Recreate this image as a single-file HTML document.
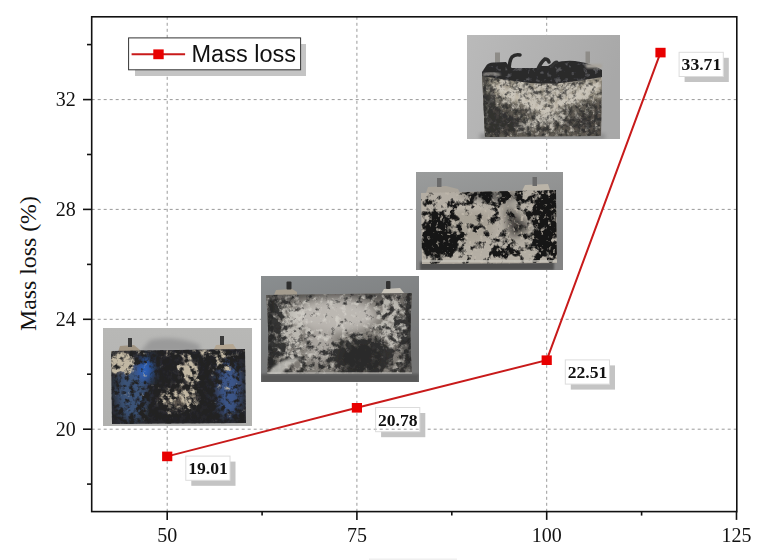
<!DOCTYPE html><html><head><meta charset="utf-8"><style>html,body{margin:0;padding:0;background:#fff;overflow:hidden}svg{display:block;}</style></head><body><svg width="773" height="560" viewBox="0 0 773 560"><rect width="773" height="560" fill="#fff"/><g stroke="#9a9a9a" stroke-width="1" stroke-dasharray="3 3" fill="none"><line x1="167.2" y1="16.8" x2="167.2" y2="511.6"/><line x1="356.9" y1="16.8" x2="356.9" y2="511.6"/><line x1="546.7" y1="16.8" x2="546.7" y2="511.6"/><line x1="91.7" y1="429.2" x2="736.8" y2="429.2"/><line x1="91.7" y1="319.3" x2="736.8" y2="319.3"/><line x1="91.7" y1="209.4" x2="736.8" y2="209.4"/><line x1="91.7" y1="99.6" x2="736.8" y2="99.6"/></g><defs><filter id="t1l" filterUnits="userSpaceOnUse" x="111" y="349" width="135" height="75" color-interpolation-filters="sRGB"><feTurbulence type="fractalNoise" baseFrequency="0.12" numOctaves="4" seed="7" result="n0"/><feColorMatrix in="n0" type="matrix" values="1 0 0 0 0  0 1 0 0 0  0 0 1 0 0  0 0 0 0 1" result="n"/><feGaussianBlur in="SourceGraphic" stdDeviation="4" result="map"/><feComposite in="n" in2="map" operator="arithmetic" k1="0" k2="1" k3="0.6" k4="-0.3" result="s"/><feColorMatrix in="s" type="matrix" values="0 0 0 0 0.76  0 0 0 0 0.72  0 0 0 0 0.64  5 0 0 0 -2.0"/><feGaussianBlur stdDeviation="0.4"/></filter><filter id="t1d" filterUnits="userSpaceOnUse" x="111" y="349" width="135" height="75" color-interpolation-filters="sRGB"><feTurbulence type="fractalNoise" baseFrequency="0.2" numOctaves="3" seed="3" result="n0"/><feColorMatrix in="n0" type="matrix" values="1 0 0 0 0  0 1 0 0 0  0 0 1 0 0  0 0 0 0 1" result="n"/><feGaussianBlur in="SourceGraphic" stdDeviation="4" result="map"/><feComposite in="n" in2="map" operator="arithmetic" k1="0" k2="1" k3="0.6" k4="-0.3" result="s"/><feColorMatrix in="s" type="matrix" values="0 0 0 0 0.13  0 0 0 0 0.13  0 0 0 0 0.14  4 0 0 0 -1.5"/><feGaussianBlur stdDeviation="0.3"/></filter><filter id="t2d" filterUnits="userSpaceOnUse" x="266" y="293" width="148" height="84" color-interpolation-filters="sRGB"><feTurbulence type="fractalNoise" baseFrequency="0.16" numOctaves="4" seed="5" result="n0"/><feColorMatrix in="n0" type="matrix" values="1 0 0 0 0  0 1 0 0 0  0 0 1 0 0  0 0 0 0 1" result="n"/><feGaussianBlur in="SourceGraphic" stdDeviation="5" result="map"/><feComposite in="n" in2="map" operator="arithmetic" k1="0" k2="1" k3="0.6" k4="-0.3" result="s"/><feColorMatrix in="s" type="matrix" values="0 0 0 0 0.16  0 0 0 0 0.16  0 0 0 0 0.16  4 0 0 0 -1.5"/><feGaussianBlur stdDeviation="0.4"/></filter><filter id="t2l" filterUnits="userSpaceOnUse" x="266" y="293" width="148" height="84" color-interpolation-filters="sRGB"><feTurbulence type="fractalNoise" baseFrequency="0.17" numOctaves="4" seed="13" result="n0"/><feColorMatrix in="n0" type="matrix" values="1 0 0 0 0  0 1 0 0 0  0 0 1 0 0  0 0 0 0 1" result="n"/><feGaussianBlur in="SourceGraphic" stdDeviation="5" result="map"/><feComposite in="n" in2="map" operator="arithmetic" k1="0" k2="1" k3="0.6" k4="-0.3" result="s"/><feColorMatrix in="s" type="matrix" values="0 0 0 0 0.86  0 0 0 0 0.85  0 0 0 0 0.82  4 0 0 0 -1.5"/><feGaussianBlur stdDeviation="0.4"/></filter><filter id="t3d" filterUnits="userSpaceOnUse" x="421" y="190" width="136" height="74" color-interpolation-filters="sRGB"><feTurbulence type="fractalNoise" baseFrequency="0.12" numOctaves="4" seed="9" result="n0"/><feColorMatrix in="n0" type="matrix" values="1 0 0 0 0  0 1 0 0 0  0 0 1 0 0  0 0 0 0 1" result="n"/><feGaussianBlur in="SourceGraphic" stdDeviation="5" result="map"/><feComposite in="n" in2="map" operator="arithmetic" k1="0" k2="1" k3="0.6" k4="-0.3" result="s"/><feColorMatrix in="s" type="matrix" values="0 0 0 0 0.09  0 0 0 0 0.09  0 0 0 0 0.09  6 0 0 0 -2.5"/><feGaussianBlur stdDeviation="0.4"/></filter><filter id="s3l" x="0" y="0" width="100%" height="100%" color-interpolation-filters="sRGB"><feTurbulence type="fractalNoise" baseFrequency="0.25" numOctaves="3" seed="31"/><feColorMatrix type="matrix" values="0 0 0 0 0.76  0 0 0 0 0.73  0 0 0 0 0.68  6 0 0 0 -3.6"/><feGaussianBlur stdDeviation="0.3"/></filter><filter id="t4d" filterUnits="userSpaceOnUse" x="483" y="72" width="120" height="66" color-interpolation-filters="sRGB"><feTurbulence type="fractalNoise" baseFrequency="0.22" numOctaves="4" seed="4" result="n0"/><feColorMatrix in="n0" type="matrix" values="1 0 0 0 0  0 1 0 0 0  0 0 1 0 0  0 0 0 0 1" result="n"/><feGaussianBlur in="SourceGraphic" stdDeviation="4" result="map"/><feComposite in="n" in2="map" operator="arithmetic" k1="0" k2="1" k3="0.6" k4="-0.3" result="s"/><feColorMatrix in="s" type="matrix" values="0 0 0 0 0.16  0 0 0 0 0.16  0 0 0 0 0.16  3.5 0 0 0 -1.25"/><feGaussianBlur stdDeviation="0.3"/></filter><filter id="t4l" filterUnits="userSpaceOnUse" x="483" y="72" width="120" height="66" color-interpolation-filters="sRGB"><feTurbulence type="fractalNoise" baseFrequency="0.2" numOctaves="4" seed="17" result="n0"/><feColorMatrix in="n0" type="matrix" values="1 0 0 0 0  0 1 0 0 0  0 0 1 0 0  0 0 0 0 1" result="n"/><feGaussianBlur in="SourceGraphic" stdDeviation="4" result="map"/><feComposite in="n" in2="map" operator="arithmetic" k1="0" k2="1" k3="0.6" k4="-0.3" result="s"/><feColorMatrix in="s" type="matrix" values="0 0 0 0 0.8  0 0 0 0 0.78  0 0 0 0 0.74  3.5 0 0 0 -1.25"/><feGaussianBlur stdDeviation="0.3"/></filter><filter id="s4c" x="0" y="0" width="100%" height="100%" color-interpolation-filters="sRGB"><feTurbulence type="fractalNoise" baseFrequency="0.18" numOctaves="3" seed="23"/><feColorMatrix type="matrix" values="0 0 0 0 0.34  0 0 0 0 0.34  0 0 0 0 0.35  5 0 0 0 -2.9"/><feGaussianBlur stdDeviation="0.4"/></filter><filter id="bl4" x="-50%" y="-50%" width="200%" height="200%"><feGaussianBlur stdDeviation="4"/></filter><filter id="bl2" x="-50%" y="-50%" width="200%" height="200%"><feGaussianBlur stdDeviation="2"/></filter><filter id="bl1" x="-50%" y="-50%" width="200%" height="200%"><feGaussianBlur stdDeviation="1"/></filter><filter id="pb" filterUnits="userSpaceOnUse" x="0" y="0" width="773" height="560"><feGaussianBlur stdDeviation="0.6"/></filter></defs><g filter="url(#pb)">
<linearGradient id="bg1" x1="0" y1="0" x2="0" y2="1"><stop offset="0" stop-color="#b8b8b6"/><stop offset="1" stop-color="#b0b0ae"/></linearGradient>
<clipPath id="c1"><rect x="103" y="328" width="149" height="98"/></clipPath>
<clipPath id="b1"><path d="M111 351 L245 349 L246 423 L112 424 Z"/></clipPath>
<g clip-path="url(#c1)">
<rect x="103" y="328" width="149" height="98" fill="url(#bg1)"/>
<path d="M150 340 Q175 335 200 345 L200 352 L140 352 Z" fill="#9a9a9a" filter="url(#bl2)"/>
<path d="M118 352 L120 346 L134 345 L140 350 L140 352 Z" fill="#a09482"/>
<rect x="128" y="338" width="4" height="9" fill="#3a3a3a"/>
<path d="M213 351 L216 345 L233 344 L237 350 Z" fill="#b4a692"/>
<rect x="220" y="336" width="4" height="9" fill="#3a3a3a"/>
<path d="M111 351 L245 349 L246 423 L112 424 Z" fill="#28282c"/>
<g clip-path="url(#b1)">
<g filter="url(#bl4)">
 <ellipse cx="132" cy="392" rx="16" ry="30" fill="#3a5278"/>
 <ellipse cx="146" cy="369" rx="7" ry="12" fill="#2c64c4"/>
 <ellipse cx="229" cy="388" rx="13" ry="30" fill="#3a5488"/>
 <ellipse cx="178" cy="398" rx="20" ry="11" fill="#5e5850"/>
 <ellipse cx="122" cy="362" rx="9" ry="7" fill="#a89c88"/>
 <ellipse cx="188" cy="370" rx="5" ry="10" fill="#a49a8c"/>
</g>
<g filter="url(#t1l)"><rect x="111" y="349" width="135" height="75" fill="#000"/><ellipse cx="122" cy="363" rx="13" ry="11" fill="#fff"/><ellipse cx="188" cy="370" rx="9" ry="14" fill="#f8f8f8"/><ellipse cx="180" cy="398" rx="22" ry="12" fill="#b0b0b0"/><rect x="111" y="349" width="135" height="6" fill="#909090"/><ellipse cx="222" cy="362" rx="14" ry="8" fill="#909090"/></g>
<g filter="url(#t1d)"><rect x="111" y="349" width="135" height="75" fill="#000"/><rect x="111" y="349" width="135" height="75" fill="#aaa"/><ellipse cx="147" cy="372" rx="10" ry="14" fill="#222"/><ellipse cx="229" cy="390" rx="12" ry="25" fill="#444"/><ellipse cx="128" cy="392" rx="14" ry="25" fill="#555"/><ellipse cx="122" cy="362" rx="11" ry="9" fill="#333"/><ellipse cx="188" cy="370" rx="7" ry="12" fill="#333"/><ellipse cx="180" cy="398" rx="18" ry="10" fill="#666"/></g>
</g>
</g>
<linearGradient id="bg2" x1="0" y1="0" x2="0.4" y2="1"><stop offset="0" stop-color="#8a8e90"/><stop offset="1" stop-color="#747474"/></linearGradient>
<clipPath id="c2"><rect x="261" y="276" width="158" height="106"/></clipPath>
<clipPath id="b2"><path d="M266 295 L412 293 Q409 335 412 373 L267 374 Q270 335 266 295 Z"/></clipPath>
<g clip-path="url(#c2)">
<rect x="261" y="276" width="158" height="106" fill="url(#bg2)"/>
<rect x="261" y="374" width="158" height="9" fill="#585858" filter="url(#bl1)"/>
<path d="M274 295 L276 290 L292 289 L297 292 L297 295 Z" fill="#a49c8e"/>
<rect x="286.5" y="281.5" width="5" height="8" rx="1" fill="#2e2e2e"/>
<path d="M381 294 L384 289 L400 288 L404 293 Z" fill="#c8c4ba"/>
<rect x="386" y="281" width="4.5" height="8" rx="1" fill="#333"/>
<path d="M266 295 L412 293 Q409 335 412 373 L267 374 Q270 335 266 295 Z" fill="#7e7a74"/>
<g clip-path="url(#b2)">
<g filter="url(#bl4)">
 <ellipse cx="335" cy="316" rx="42" ry="17" fill="#bcb8b2"/>
 <ellipse cx="320" cy="345" rx="14" ry="18" fill="#aaa6a0"/>
 <ellipse cx="268" cy="335" rx="6" ry="45" fill="#303030"/>
 <ellipse cx="412" cy="335" rx="5" ry="45" fill="#2a2a2a"/>
 <ellipse cx="362" cy="358" rx="20" ry="14" fill="#3a3836"/>
 <ellipse cx="340" cy="295" rx="75" ry="3" fill="#2a2a2a"/>
</g>
<g opacity="0.65"><g filter="url(#t2l)"><rect x="266" y="293" width="148" height="84" fill="#000"/><rect x="266" y="293" width="148" height="84" fill="#404040"/><ellipse cx="290" cy="332" rx="15" ry="32" fill="#c0c0c0"/><ellipse cx="394" cy="322" rx="14" ry="26" fill="#c8c8c8"/><ellipse cx="362" cy="358" rx="26" ry="16" fill="#222"/></g></g>
<g opacity="0.9"><g filter="url(#t2d)"><rect x="266" y="293" width="148" height="84" fill="#000"/><rect x="266" y="293" width="148" height="84" fill="#5a5a5a"/><ellipse cx="274" cy="335" rx="10" ry="45" fill="#c0c0c0"/><ellipse cx="362" cy="356" rx="30" ry="18" fill="#e8e8e8"/><ellipse cx="406" cy="335" rx="8" ry="45" fill="#b0b0b0"/><ellipse cx="335" cy="318" rx="45" ry="20" fill="#0a0a0a"/></g></g>
<path d="M267 377 Q270 366 285 360 Q296 357 302 358 Q288 364 280 376 Z" fill="#c4c2bc" opacity="0.85" filter="url(#bl1)"/>
</g>
<rect x="267" y="372" width="145" height="2" fill="#c8c6c2" opacity="0.5"/>
</g>
<linearGradient id="bg3" x1="0" y1="0" x2="0.3" y2="1"><stop offset="0" stop-color="#9a9c9c"/><stop offset="1" stop-color="#848484"/></linearGradient>
<clipPath id="c3"><rect x="416.5" y="172" width="146.5" height="98"/></clipPath>
<clipPath id="b3"><path d="M421 193 L556 190 L557 263 L422 264 Z"/></clipPath>
<g clip-path="url(#c3)">
<rect x="416" y="172" width="147" height="98" fill="url(#bg3)"/>
<rect x="420" y="262" width="134" height="8" fill="#505050" filter="url(#bl1)"/>
<path d="M426 193 L428 187 L446 186 L458 189 L460 193 Z" fill="#aaa49a"/>
<rect x="437" y="178" width="4.5" height="9" fill="#6a6a6a"/>
<path d="M522 191 L525 185 L548 184 L550 190 Z" fill="#bab4a8"/>
<rect x="532.5" y="177" width="4.5" height="9" fill="#6a6a6a"/>
<path d="M421 193 L556 190 L557 263 L422 264 Z" fill="#b4aea4"/>
<g clip-path="url(#b3)">
<g filter="url(#bl4)">
 <path d="M505 205 L531 228 L511 238 Z" fill="#3a3834"/>
 <ellipse cx="470" cy="205" rx="14" ry="6" fill="#cac4ba"/>
 <ellipse cx="490" cy="196" rx="30" ry="4" fill="#3a3a3a"/>
 <ellipse cx="470" cy="225" rx="25" ry="18" fill="#a8a296"/>
</g>
<g filter="url(#t3d)"><rect x="421" y="190" width="136" height="74" fill="#000"/><rect x="421" y="190" width="136" height="74" fill="#8a8a8a"/><ellipse cx="436" cy="240" rx="16" ry="26" fill="#fff"/><rect x="536" y="190" width="22" height="74" fill="#fff"/><rect x="462" y="200" width="70" height="58" fill="#505050"/><ellipse cx="502" cy="250" rx="8" ry="8" fill="#fff"/><ellipse cx="520" cy="256" rx="5" ry="6" fill="#ddd"/><ellipse cx="445" cy="204" rx="20" ry="8" fill="#3a3a3a"/><ellipse cx="500" cy="194" rx="28" ry="4" fill="#eee"/><rect x="421" y="257" width="136" height="7" fill="#333"/></g>
<rect x="421" y="190" width="136" height="74" filter="url(#s3l)" opacity="0.8"/>
<rect x="421" y="260" width="136" height="2" fill="#c8c4bc" opacity="0.7"/>
</g>
</g>
<linearGradient id="bg4" x1="0" y1="0" x2="1" y2="0.3"><stop offset="0" stop-color="#bababa"/><stop offset="1" stop-color="#a8a8a8"/></linearGradient>
<clipPath id="c4"><rect x="467" y="35" width="152.5" height="104"/></clipPath>
<clipPath id="b4"><path d="M482 75 L602 72 L601 136 L485 137 Z"/></clipPath>
<clipPath id="ch4"><path d="M482 72 L486 66 Q488 62 495 62.5 L506 62 L509 66 L512 68 L525 68 L537 68 L540 66 L548 66 L553 63 Q565 60 575 61 L586 63 L595 66 L602 70 L602 77 Q580 81 560 83 Q545 84 530 83 Q505 80 482 76 Z"/></clipPath>
<g clip-path="url(#c4)">
<rect x="467" y="35" width="153" height="104" fill="url(#bg4)"/>
<rect x="480" y="134" width="125" height="5" fill="#888" filter="url(#bl2)"/>
<rect x="495" y="52.5" width="5" height="11" fill="#8e8c88"/>
<rect x="585.5" y="51.5" width="4.5" height="12" fill="#8e8c88"/>
<path d="M482 75 L602 72 L601 136 L485 137 Z" fill="#5e5a52"/>
<g clip-path="url(#b4)">
<g filter="url(#bl2)">
 <path d="M484 75 L602 73 L602 98 L545 108 L484 98 Z" fill="#948e80"/>
 <path d="M485 106 L535 128 L485 137 Z" fill="#4e4a44"/>
 <path d="M602 106 L560 128 L602 137 Z" fill="#54504a"/>
 <path d="M495 86 L545 112 L600 84" stroke="#d0c8b8" stroke-width="5" fill="none"/>
 <path d="M518 127 L562 117" stroke="#d8d4ca" stroke-width="3.5" fill="none"/>
 <rect x="483" y="72" width="6" height="66" fill="#4a4844"/>
</g>
<g opacity="0.85"><g filter="url(#t4l)"><rect x="483" y="72" width="120" height="66" fill="#000"/><rect x="483" y="72" width="120" height="66" fill="#4a4a4a"/><ellipse cx="545" cy="90" rx="48" ry="9" fill="#aaa"/><path d="M495 86 L545 112 L600 84" stroke="#e0e0e0" stroke-width="7" fill="none"/><path d="M505 96 L545 100" stroke="#bbb" stroke-width="6" fill="none"/><path d="M515 127 L565 117" stroke="#ddd" stroke-width="5" fill="none"/><path d="M485 104 L532 126 L485 137 Z" fill="#222"/></g></g>
<g opacity="0.75"><g filter="url(#t4d)"><rect x="483" y="72" width="120" height="66" fill="#000"/><rect x="483" y="72" width="120" height="66" fill="#606060"/><ellipse cx="489" cy="112" rx="7" ry="30" fill="#e0e0e0"/><path d="M485 104 L532 126 L485 137 Z" fill="#c8c8c8"/><path d="M602 104 L565 126 L602 137 Z" fill="#aaa"/><path d="M495 86 L545 112 L600 84" stroke="#222" stroke-width="7" fill="none"/></g></g>
</g>
<g clip-path="url(#ch4)">
<rect x="480" y="50" width="125" height="40" fill="#2a2a2c"/>
<rect x="480" y="50" width="125" height="40" filter="url(#s4c)"/>
</g>
<path d="M509 72 Q509 61 512 57 Q515 54 520 55" stroke="#2c2c2c" stroke-width="3.5" stroke-linecap="round" fill="none"/>
<path d="M538 69 Q541 62 545 59 Q548 59 549 62" stroke="#2e2e2e" stroke-width="3.5" stroke-linecap="round" fill="none"/>
<path d="M552 66 Q554 62 557 62" stroke="#333" stroke-width="3" stroke-linecap="round" fill="none"/>
<path d="M483 75 Q490 72 500 75" stroke="#b0aca4" stroke-width="2" fill="none" filter="url(#bl1)"/>
<rect x="586" y="64" width="16" height="4" fill="#a8a49c" filter="url(#bl1)"/>
</g></g><rect x="91.7" y="16.8" width="645.1" height="494.8" fill="none" stroke="#111" stroke-width="1.6"/><g stroke="#111" stroke-width="1.6"><line x1="167.2" y1="511.6" x2="167.2" y2="519.9"/><line x1="356.9" y1="511.6" x2="356.9" y2="519.9"/><line x1="546.7" y1="511.6" x2="546.7" y2="519.9"/><line x1="736.5" y1="511.6" x2="736.5" y2="519.9"/><line x1="262.1" y1="511.6" x2="262.1" y2="515.6"/><line x1="451.8" y1="511.6" x2="451.8" y2="515.6"/><line x1="641.6" y1="511.6" x2="641.6" y2="515.6"/><line x1="83.0" y1="429.2" x2="91.7" y2="429.2"/><line x1="83.0" y1="319.3" x2="91.7" y2="319.3"/><line x1="83.0" y1="209.4" x2="91.7" y2="209.4"/><line x1="83.0" y1="99.6" x2="91.7" y2="99.6"/><line x1="87.0" y1="484.1" x2="91.7" y2="484.1"/><line x1="87.0" y1="374.2" x2="91.7" y2="374.2"/><line x1="87.0" y1="264.4" x2="91.7" y2="264.4"/><line x1="87.0" y1="154.5" x2="91.7" y2="154.5"/><line x1="87.0" y1="44.6" x2="91.7" y2="44.6"/></g><g font-family="Liberation Serif, serif" font-size="20" fill="#111"><text x="167.2" y="542" text-anchor="middle">50</text><text x="356.9" y="542" text-anchor="middle">75</text><text x="546.7" y="542" text-anchor="middle">100</text><text x="736.5" y="542" text-anchor="middle">125</text><text x="75.8" y="435.7" text-anchor="end">20</text><text x="75.8" y="325.8" text-anchor="end">24</text><text x="75.8" y="215.9" text-anchor="end">28</text><text x="75.8" y="106.1" text-anchor="end">32</text></g><text transform="translate(36 331) rotate(-90)" font-family="Liberation Serif, serif" font-size="23.8" fill="#111">Mass loss (%)</text><polyline fill="none" stroke="#c81a1a" stroke-width="2" points="167.2,456.4 356.9,407.8 546.7,360.2 660.5,52.6"/><rect x="162.1" y="451.6" width="10.2" height="9.6" fill="#e80000"/><rect x="351.8" y="403.0" width="10.2" height="9.6" fill="#e80000"/><rect x="541.6" y="355.4" width="10.2" height="9.6" fill="#e80000"/><rect x="655.4" y="47.8" width="10.2" height="9.6" fill="#e80000"/><rect x="191.3" y="461.6" width="44.2" height="24.2" fill="#c4c4c4"/><rect x="185.8" y="456.1" width="44.2" height="24.2" fill="#fff" stroke="#dcdcdc" stroke-width="1"/><text x="208.0" y="474.1" text-anchor="middle" font-family="Liberation Serif, serif" font-weight="bold" font-size="17.6" fill="#111">19.01</text><rect x="381.1" y="413.0" width="44.2" height="24.2" fill="#c4c4c4"/><rect x="375.6" y="407.5" width="44.2" height="24.2" fill="#fff" stroke="#dcdcdc" stroke-width="1"/><text x="397.8" y="425.5" text-anchor="middle" font-family="Liberation Serif, serif" font-weight="bold" font-size="17.6" fill="#111">20.78</text><rect x="570.8" y="365.4" width="44.2" height="24.2" fill="#c4c4c4"/><rect x="565.3" y="359.9" width="44.2" height="24.2" fill="#fff" stroke="#dcdcdc" stroke-width="1"/><text x="587.5" y="377.9" text-anchor="middle" font-family="Liberation Serif, serif" font-weight="bold" font-size="17.6" fill="#111">22.51</text><rect x="684.6" y="57.8" width="44.2" height="24.2" fill="#c4c4c4"/><rect x="679.1" y="52.3" width="44.2" height="24.2" fill="#fff" stroke="#dcdcdc" stroke-width="1"/><text x="701.4" y="70.3" text-anchor="middle" font-family="Liberation Serif, serif" font-weight="bold" font-size="17.6" fill="#111">33.71</text><line x1="375.6" y1="429.2" x2="420.1" y2="429.2" stroke="#9a9a9a" stroke-width="1" stroke-dasharray="3 3" stroke-dashoffset="1.90"/><rect x="135" y="44" width="171" height="32" fill="#c4c4c4"/><rect x="128.6" y="37.9" width="172" height="31.9" fill="#fff" stroke="#333" stroke-width="1"/><line x1="131.6" y1="54.2" x2="185.1" y2="54.2" stroke="#c81a1a" stroke-width="2"/><rect x="153.3" y="49.4" width="10.4" height="9.8" fill="#e80000"/><text x="191.5" y="62" font-family="Liberation Sans, sans-serif" font-size="23.5" fill="#111">Mass loss</text><rect x="369" y="558.5" width="88" height="1.5" fill="#f0f0f0"/></svg></body></html>
